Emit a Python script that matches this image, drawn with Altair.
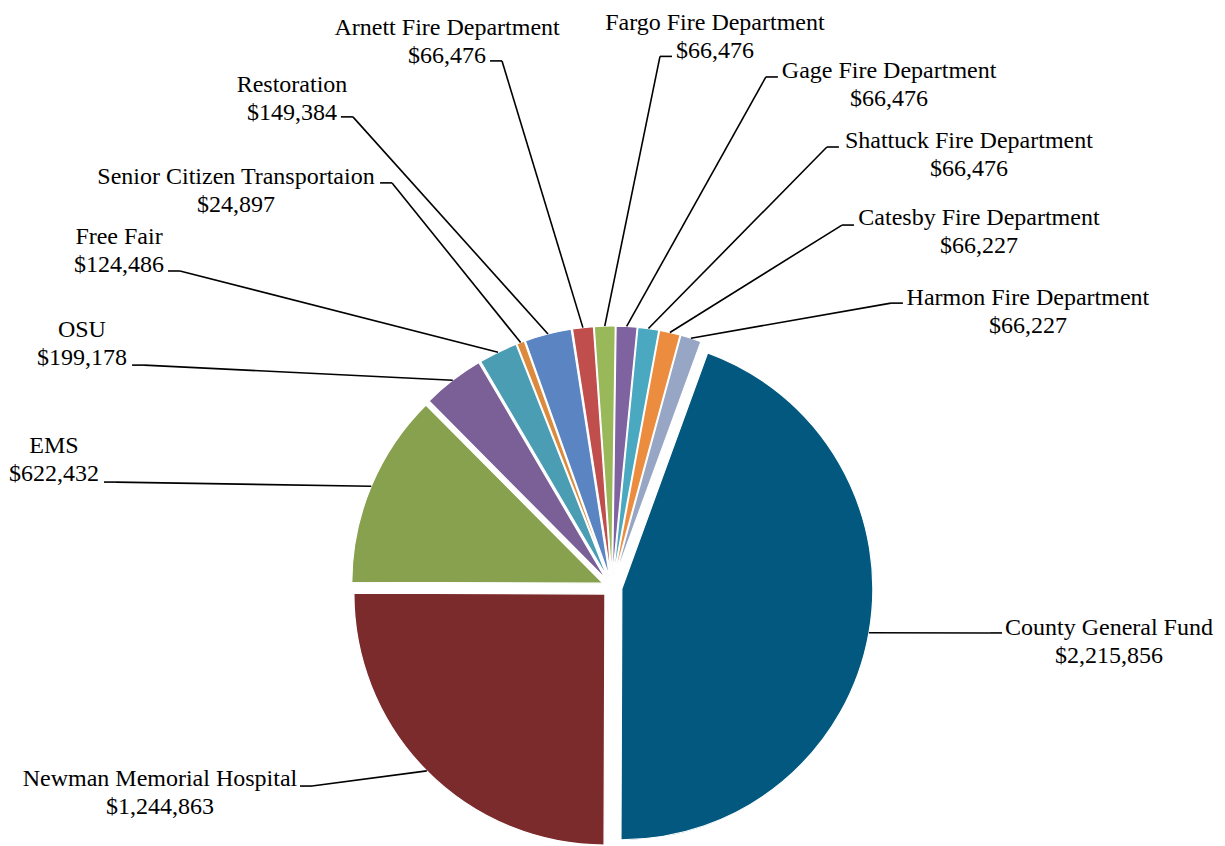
import altair as alt
import pandas as pd

# ---- data (clockwise, starting at the Restoration slice) ----
categories = [
    "Restoration", "Arnett Fire Department", "Fargo Fire Department",
    "Gage Fire Department", "Shattuck Fire Department", "Catesby Fire Department",
    "Harmon Fire Department", "County General Fund", "Newman Memorial Hospital",
    "EMS", "OSU", "Free Fair", "Senior Citizen Transportaion",
]
amounts = [149384, 66476, 66476, 66476, 66476, 66227, 66227,
           2215856, 1244863, 622432, 199178, 124486, 24897]

# ---- style ----
colors = ["#5A84C2", "#BF4E4C", "#99B85A", "#7F62A0", "#4AA8C0", "#EB8C3E",
          "#96A6C4", "#03587F", "#7B2B2C", "#87A14F", "#7B5F97", "#4A9DB3", "#DC8A3D"]

# ---- label layout, in pie-radius units from the pie centre (x right, y up) ----
label_x = [-1.275, -0.657, 0.410, 1.104, 1.422, 1.462, 1.657, 1.980, -1.801, -2.223, -2.112, -1.964, -1.498]
label_y = [1.972, 2.199, 2.221, 2.028, 1.749, 1.442, 1.1235, -0.191, -0.793, 0.534, 0.996, 1.367, 1.606]
leader_x = [-1.080, -0.486, 0.239, 0.661, 0.904, 0.964, 1.159, 1.554, -1.243, -2.024, -1.912, -1.769, -0.924]
leader_y = [1.873, 2.096, 2.114, 2.032, 1.753, 1.442, 1.131, -0.183, -0.793, 0.418, 0.884, 1.259, 1.610]

START_DEG = 340.4
R_PX = 251
EXPLODE = 10 / R_PX
ELBOW = 12 / R_PX
FONT = "Liberation Serif"

df = pd.DataFrame({
    "order": list(range(len(categories))),
    "category": categories,
    "amount": amounts,
    "money": [f"${v:,}" for v in amounts],
    "lx": label_x, "ly": label_y, "nx": leader_x, "ny": leader_y,
})

xs = alt.Scale(domain=[-604 / R_PX, 605 / R_PX], nice=False, zero=False)
ys = alt.Scale(domain=[-251 / R_PX, 579 / R_PX], nice=False, zero=False)

base = (
    alt.Chart(df)
    .transform_window(cum="sum(amount)", sort=[alt.SortField("order")])
    .transform_joinaggregate(total="sum(amount)")
    .transform_calculate(a1=f"{START_DEG}*PI/180 + 2*PI*datum.cum/datum.total")
    .transform_calculate(a0="datum.a1 - 2*PI*datum.amount/datum.total")
    .transform_calculate(mid="(datum.a0 + datum.a1)/2")
    .transform_calculate(cx=f"{EXPLODE}*sin(datum.mid)")
    .transform_calculate(cy=f"{EXPLODE}*cos(datum.mid)")
    .transform_calculate(px0="datum.cx + sin(datum.mid)")
    .transform_calculate(py0="datum.cy + cos(datum.mid)")
    .transform_calculate(ex=f"datum.lx < datum.nx ? datum.nx + {ELBOW} : datum.nx - {ELBOW}")
)

arcs = base.mark_arc(radius=R_PX, stroke="white", strokeWidth=1.2).encode(
    x=alt.X("cx:Q", scale=xs, axis=None),
    y=alt.Y("cy:Q", scale=ys, axis=None),
    theta=alt.Theta("a0:Q", scale=None, stack=False),
    theta2="a1:Q",
    color=alt.Color("category:N", scale=alt.Scale(domain=categories, range=colors), legend=None),
)

seg1 = base.mark_rule(color="black", strokeWidth=1.6).encode(
    x=alt.X("px0:Q", scale=xs, axis=None),
    y=alt.Y("py0:Q", scale=ys, axis=None),
    x2="ex:Q", y2="ny:Q",
)
seg2 = base.mark_rule(color="black", strokeWidth=1.6).encode(
    x=alt.X("ex:Q", scale=xs, axis=None),
    y=alt.Y("ny:Q", scale=ys, axis=None),
    x2="nx:Q", y2="ny:Q",
)

names = base.mark_text(font=FONT, fontSize=24, align="center", baseline="alphabetic", color="black").encode(
    x=alt.X("lx:Q", scale=xs, axis=None),
    y=alt.Y("ly:Q", scale=ys, axis=None),
    text="category:N",
)
vals = base.mark_text(font=FONT, fontSize=24, align="center", baseline="alphabetic", color="black", dy=28).encode(
    x=alt.X("lx:Q", scale=xs, axis=None),
    y=alt.Y("ly:Q", scale=ys, axis=None),
    text="money:N",
)

chart = (
    alt.layer(arcs, seg1, seg2, names, vals)
    .properties(width=1209, height=830, padding=0, background="white")
    .configure_view(stroke=None)
)

chart.save("out.html", embed_options={"renderer": "svg", "actions": False})
